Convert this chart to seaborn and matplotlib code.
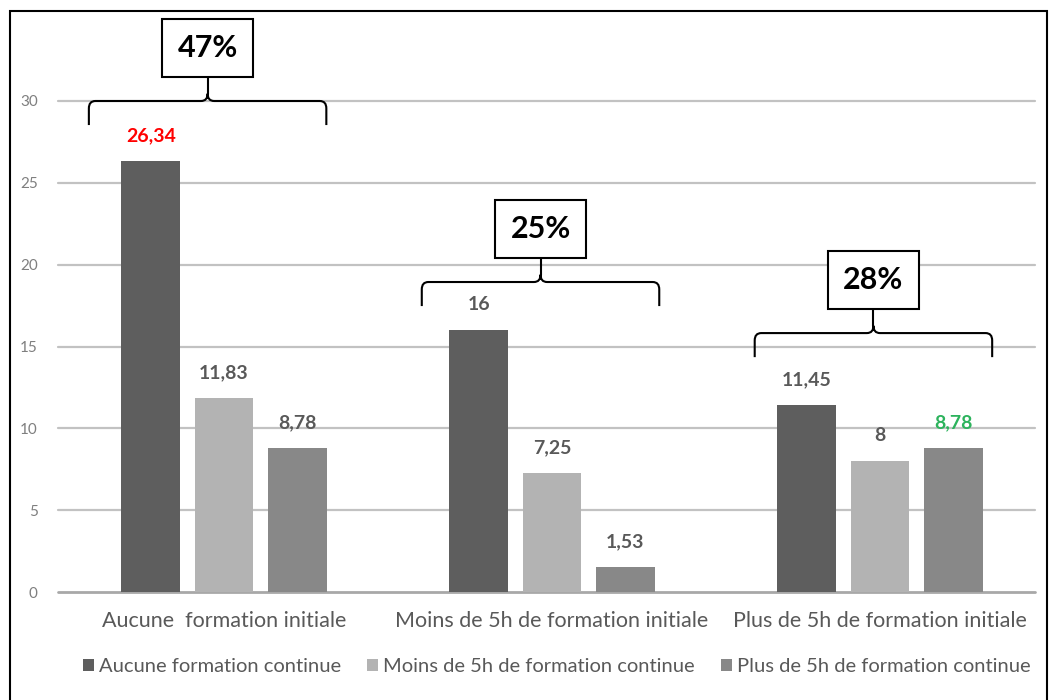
import numpy as np
import pandas as pd
import matplotlib
matplotlib.use("Agg")
import matplotlib.pyplot as plt
from matplotlib.path import Path
from matplotlib.patches import PathPatch, Rectangle
import seaborn as sns

# data
categories = ["Aucune  formation initiale",
              "Moins de 5h de formation initiale",
              "Plus de 5h de formation initiale"]
series = ["Aucune formation continue",
          "Moins de 5h de formation continue",
          "Plus de 5h de formation continue"]
aucune_fc = [26.34, 16, 11.45]
moins_fc = [11.83, 7.25, 8]
plus_fc = [8.78, 1.53, 8.78]
percents = ["47%", "25%", "28%"]
brace_levels = [30.0, 18.94, 15.82]
y_ticks = [0, 5, 10, 15, 20, 25, 30]

palette = ["#5e5e5e", "#b3b3b3", "#888888"]
label_grey = "#595959"
# highlight colours for some value labels (series index, category index)
highlights = {(0, 0): "#ff0000", (2, 2): "#2db35d"}

sns.set_style("white")
plt.rcParams["font.family"] = ["Lato", "DejaVu Sans"]

df = pd.DataFrame({
    "initiale": categories * 3,
    "continue": np.repeat(series, 3),
    "valeur": aucune_fc + moins_fc + plus_fc,
})

fig = plt.figure(figsize=(10.57, 7.0), dpi=100)
ax_l, ax_w = 60, 984
ax = fig.add_axes([ax_l / 1057, 108 / 700, ax_w / 1057, 491 / 700])

sns.barplot(data=df, x="initiale", y="valeur", hue="continue",
            palette=palette, width=0.67, gap=0.2, ax=ax,
            errorbar=None, saturation=1, edgecolor="none")

ax.set_xlim(-0.5, 2.5)
ax.set_ylim(0, 30)
ax.set_yticks(y_ticks)
ax.set_yticklabels([str(t) for t in y_ticks], color="#7f7f7f", fontsize=11)
ax.tick_params(axis="y", length=0, pad=16)
ax.tick_params(axis="x", length=0, pad=14, labelsize=15.5, labelcolor=label_grey)
ax.set_xlabel("")
ax.set_ylabel("")
for s in ax.spines.values():
    s.set_visible(False)
ax.grid(False)
grid_end = (1035 - ax_l) / ax_w
grid_start = -2 / ax_w
for t in y_ticks[1:]:
    ax.axhline(t, xmin=grid_start, xmax=grid_end, color="#c2c2c2", lw=1.6,
               zorder=0, clip_on=False)
ax.axhline(0, xmin=grid_start, xmax=grid_end, color="#a8a8a8", lw=2.0,
           zorder=0, clip_on=False)

# value labels
for si, cont in enumerate(ax.containers):
    labels = [f"{v:g}".replace(".", ",") for v in cont.datavalues]
    texts = ax.bar_label(cont, labels=labels, padding=12, fontsize=14,
                         fontweight="bold", color=label_grey)
    for ci, t in enumerate(texts):
        if (si, ci) in highlights:
            t.set_color(highlights[(si, ci)])

# curly braces with percentage boxes
half_w = 0.362
brace_shift = [-0.05, -0.035, -0.02]
tail = 1.47
cusp = 1.4
rx = 0.02
ry = 0.45
for ci, (lvl, pct) in enumerate(zip(brace_levels, percents)):
    c = ci + brace_shift[ci]
    L, R = c - half_w, c + half_w
    verts = [
        (L, lvl - tail), (L, lvl - ry), (L, lvl), (L + rx, lvl),
        (c - rx, lvl), (c, lvl), (c, lvl + ry),
        (c, lvl + ry), (c, lvl), (c + rx, lvl),
        (R - rx, lvl), (R, lvl), (R, lvl - ry), (R, lvl - tail),
    ]
    codes = [Path.MOVETO, Path.LINETO, Path.CURVE3, Path.CURVE3,
             Path.LINETO, Path.CURVE3, Path.CURVE3,
             Path.MOVETO, Path.CURVE3, Path.CURVE3,
             Path.LINETO, Path.CURVE3, Path.CURVE3, Path.LINETO]
    ax.add_patch(PathPatch(Path(verts, codes), fill=False, lw=1.5,
                           ec="black", clip_on=False, zorder=5))
    ax.plot([c, c], [lvl + ry, lvl + cusp], color="black", lw=1.5,
            clip_on=False, zorder=5)
    ax.text(c, lvl + cusp + 1.85, pct, ha="center", va="center",
            fontsize=22, fontweight="bold", color="black", zorder=6,
            clip_on=False,
            bbox=dict(boxstyle="square,pad=0.5", fc="white", ec="black", lw=1.5))

# legend
handles, lbls = ax.get_legend_handles_labels()
ax.legend(handles, lbls, loc="center", bbox_to_anchor=(0.505, -0.152),
          ncol=3, frameon=False, fontsize=14.5, handlelength=0.55,
          handleheight=0.55, handletextpad=0.25, columnspacing=1.3,
          labelcolor=label_grey)

# outer frame of the picture
fig.patches.append(Rectangle((10 / 1057, -0.01), 1037 / 1057, (689 / 700) + 0.01,
                             transform=fig.transFigure, fill=False,
                             ec="black", lw=1.5))

fig.savefig("out.png", dpi=100)
